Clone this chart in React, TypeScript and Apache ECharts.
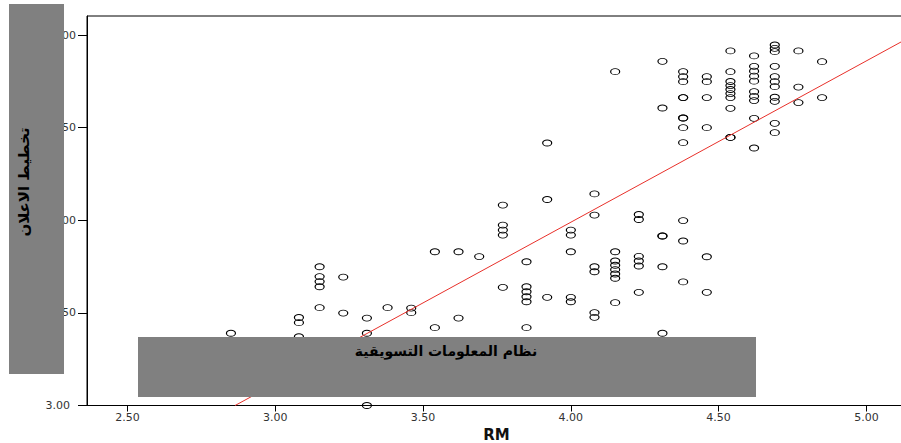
import React, { useEffect, useRef } from "react";
import * as echarts from "echarts";

// RM levels (x) and the advertising-planning scores (y) observed at each level
const rmLevels = [
  2.85, 3.08, 3.15, 3.23, 3.31, 3.38, 3.46, 3.54, 3.62, 3.69, 3.77, 3.85, 3.92,
  4.0, 4.08, 4.15, 4.23, 4.31, 4.38, 4.46, 4.54, 4.62, 4.69, 4.77, 4.85,
];
const adByLevel = [
  [3.39],
  [3.475, 3.447, 3.371],
  [3.749, 3.696, 3.669, 3.641, 3.528],
  [3.693, 3.499],
  [3.472, 3.39, 3.0],
  [3.528],
  [3.526, 3.501],
  [3.83, 3.42],
  [3.83, 3.472],
  [3.804],
  [4.082, 3.974, 3.947, 3.92, 3.638],
  [3.776, 3.641, 3.614, 3.587, 3.56, 3.42],
  [4.417, 4.112, 3.584],
  [3.947, 3.92, 3.83, 3.584, 3.56],
  [4.142, 4.028, 3.749, 3.722, 3.501, 3.476],
  [4.802, 3.83, 3.78, 3.757, 3.733, 3.71, 3.687, 3.555],
  [4.031, 4.004, 3.805, 3.78, 3.753, 3.611],
  [4.858, 4.606, 3.915, 3.915, 3.749, 3.39],
  [4.802, 4.775, 4.748, 4.662, 4.662, 4.552, 4.552, 4.5, 4.419, 3.998, 3.888, 3.667],
  [4.775, 4.748, 4.662, 4.5, 3.803, 3.611],
  [4.914, 4.802, 4.749, 4.727, 4.706, 4.684, 4.662, 4.604, 4.447, 4.447],
  [4.887, 4.831, 4.805, 4.778, 4.751, 4.694, 4.669, 4.646, 4.55, 4.39],
  [4.946, 4.928, 4.91, 4.831, 4.775, 4.748, 4.721, 4.664, 4.642, 4.523, 4.473],
  [4.914, 4.719, 4.635],
  [4.856, 4.662],
];

// fit line end points
const fitX = [2.864, 5.134];
const fitY = [3.0, 4.977];

const xTicks = [2.5, 3.0, 3.5, 4.0, 4.5, 5.0];
const yTicks = [3.0, 3.5, 4.0, 4.5, 5.0];

const yTitle = "تخطيط الاعلان";
const xBoxTitle = "نظام المعلومات التسويقية";
const xName = "RM";

export default function App() {
  const ref = useRef<HTMLDivElement>(null);
  useEffect(() => {
    if (!ref.current) return;
    const chart = echarts.init(ref.current, undefined, { renderer: "svg" });
    const points: number[][] = [];
    rmLevels.forEach((x, i) => adByLevel[i].forEach((y) => points.push([x, y])));
    const fitData = fitX.map((x, i) => [x, fitY[i]]);
    const labelFont = {
      fontFamily: "DejaVu Sans",
      fontSize: 11,
      color: "#333",
    };
    chart.setOption({
      animation: false,
      backgroundColor: "#fff",
      grid: {
        left: 87,
        top: 16,
        right: -5,
        bottom: 37.5,
        outerBoundsMode: "none",
        containLabel: false,
        show: true,
        borderColor: "#000",
        borderWidth: 1,
        backgroundColor: "transparent",
      },
      xAxis: {
        type: "value",
        min: 2.363,
        max: 5.134,
        name: xName,
        nameLocation: "middle",
        nameGap: 19,
        nameTextStyle: {
          fontFamily: "DejaVu Sans",
          fontWeight: "bold",
          fontSize: 15,
          color: "#111",
        },
        splitLine: { show: false },
        axisLine: { lineStyle: { color: "#000", width: 1 } },
        axisTick: {
          length: 6,
          lineStyle: { color: "#000" },
          customValues: xTicks,
        },
        axisLabel: {
          ...labelFont,
          margin: 6,
          customValues: xTicks,
          formatter: (v: number) => v.toFixed(2),
        },
      },
      yAxis: {
        type: "value",
        min: 3.0,
        max: 5.1026,
        splitLine: { show: false },
        axisLine: { lineStyle: { color: "#000", width: 1 } },
        axisTick: {
          length: 9,
          lineStyle: { color: "#000" },
          customValues: yTicks,
        },
        axisLabel: {
          ...labelFont,
          margin: 11,
          customValues: yTicks,
          formatter: (v: number) =>
            v === 3 ? "{low|" + v.toFixed(2) + "}" : v.toFixed(2),
          rich: {
            low: { ...labelFont, padding: [0, 6, 0, 0] },
          },
        },
      },
      series: [
        {
          type: "scatter",
          data: points,
          symbol: "path://M0,3 A5,3 0 1 1 10,3 A5,3 0 1 1 0,3 Z",
          symbolSize: [9, 6],
          itemStyle: {
            color: "rgba(0,0,0,0)",
            borderColor: "#000",
            borderWidth: 1,
            opacity: 1,
          },
          z: 2,
        },
        {
          type: "line",
          data: fitData,
          symbol: "none",
          lineStyle: { color: "#e8302a", width: 1 },
          clip: true,
          z: 3,
        },
      ],
      graphic: [
        {
          type: "rect",
          z: 100,
          shape: { x: 9, y: 4, width: 55, height: 370 },
          style: { fill: "#808080" },
        },
        {
          type: "text",
          z: 101,
          x: 24,
          y: 182,
          rotation: Math.PI / 2,
          style: {
            text: yTitle,
            fill: "#000",
            font: "bold 15px 'DejaVu Sans'",
            textAlign: "center",
            textVerticalAlign: "middle",
          },
        },
        {
          type: "rect",
          z: 100,
          shape: { x: 138, y: 337, width: 618, height: 60 },
          style: { fill: "#808080" },
        },
        {
          type: "text",
          z: 101,
          x: 446,
          y: 351,
          style: {
            text: xBoxTitle,
            fill: "#000",
            font: "bold 14px 'DejaVu Sans'",
            textAlign: "center",
            textVerticalAlign: "middle",
          },
        },
      ],
    });
    return () => chart.dispose();
  }, []);
  return (
    <div
      ref={ref}
      style={{ position: "fixed", left: 0, top: 0, width: 901, height: 443 }}
    />
  );
}
